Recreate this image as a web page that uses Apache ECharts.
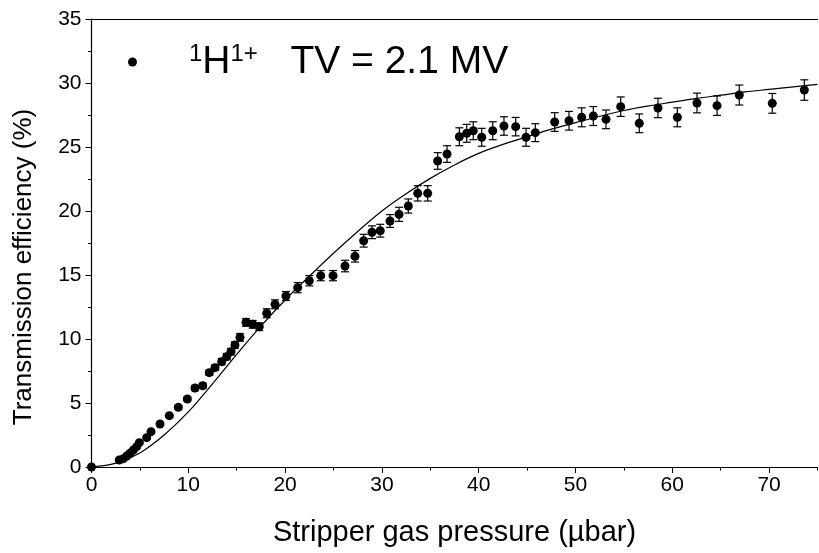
<!DOCTYPE html>
<html><head><meta charset="utf-8">
<script src="https://cdn.jsdelivr.net/npm/echarts@6/dist/echarts.min.js"></script>
<style>html,body{margin:0;padding:0;background:#fff}#c{width:819px;height:553px}</style>
</head><body><div id="c"></div>
<script>
// Measured data (stripper gas pressure in µbar, transmission efficiency in %)
const pressure = [0, 2.87, 3.29, 3.64, 3.98, 4.32, 4.67, 4.94, 5.70, 6.15, 7.08, 8.04, 8.97, 9.90, 10.69, 11.49,
  12.17, 12.76, 13.45, 13.97, 14.41, 14.82, 15.34, 15.96, 16.65, 17.33, 18.10, 18.96, 20.09, 21.30, 22.50, 23.68,
  24.95, 26.19, 27.22, 28.12, 28.98, 29.83, 30.84, 31.77, 32.73, 33.70, 34.73, 35.76, 36.73, 38.00, 38.76, 39.44,
  40.31, 41.45, 42.61, 43.82, 44.89, 45.85, 47.85, 49.33, 50.64, 51.84, 53.15, 54.67, 56.59, 58.52, 60.52, 62.55,
  64.62, 66.92, 70.33, 73.64];
const efficiency = [0, 0.55, 0.65, 0.86, 1.07, 1.33, 1.59, 1.90, 2.29, 2.76, 3.36, 4.01, 4.66, 5.31, 6.17, 6.35,
  7.37, 7.76, 8.23, 8.62, 9.01, 9.53, 10.13, 11.30, 11.15, 10.96, 12.01, 12.71, 13.36, 14.01, 14.55, 14.95,
  14.95, 15.70, 16.46, 17.68, 18.34, 18.46, 19.22, 19.74, 20.39, 21.38, 21.38, 23.91, 24.45, 25.80, 26.07, 26.27,
  25.76, 26.27, 26.64, 26.59, 25.76, 26.12, 26.95, 27.05, 27.32, 27.42, 27.16, 28.15, 26.85, 28.05, 27.32, 28.44,
  28.23, 29.06, 28.41, 29.45];
const errorBars = [0, 0.05, 0.05, 0.05, 0.05, 0.05, 0.05, 0.05, 0.1, 0.1, 0.1, 0.1, 0.15, 0.15, 0.2, 0.2,
  0.2, 0.2, 0.25, 0.25, 0.25, 0.25, 0.3, 0.3, 0.3, 0.3, 0.35, 0.35, 0.35, 0.4, 0.4, 0.4,
  0.4, 0.45, 0.45, 0.5, 0.5, 0.5, 0.5, 0.55, 0.55, 0.6, 0.6, 0.65, 0.65, 0.7, 0.7, 0.7,
  0.7, 0.7, 0.72, 0.72, 0.7, 0.7, 0.73, 0.73, 0.74, 0.74, 0.73, 0.76, 0.73, 0.76, 0.74, 0.77,
  0.76, 0.78, 0.77, 0.8];
// Fit curve
const fitPressure = [0, 2.5, 5, 7.5, 10, 12.5, 15, 17.5, 20, 22.5, 25, 27.5, 30,
  32.5, 35, 37.5, 40, 42.5, 45, 47.5, 50, 52.5, 55, 57.5, 60, 62.5, 65, 67.5, 70, 72.5, 75];
const fitEfficiency = [0, 0.3, 1.1, 2.5, 4.3, 6.5, 8.8, 11.0, 13.05, 14.9, 16.7,
  18.4, 20.0, 21.35, 22.55, 23.6, 24.5, 25.2, 25.8, 26.4, 26.9, 27.4, 27.85, 28.2, 28.5, 28.8, 29.05, 29.3, 29.5,
  29.7, 29.9];
const xTickLabels = [0, 10, 20, 30, 40, 50, 60, 70];
const yTickLabels = [0, 5, 10, 15, 20, 25, 30, 35];
const xMax = 75;

const FONT = '"Liberation Sans", Arial, Helvetica, sans-serif';
const chart = echarts.init(document.getElementById('c'), null, {renderer: 'canvas'});

const points = pressure.map((p, i) => [p, efficiency[i]]);
const errs = pressure.map((p, i) => [p, efficiency[i], errorBars[i]]);
const fit = fitPressure.map((p, i) => [p, fitEfficiency[i]]);

const xStep = xTickLabels[1] - xTickLabels[0];
const yStep = yTickLabels[1] - yTickLabels[0];

chart.setOption({
  backgroundColor: '#fff',
  animation: false,
  grid: {left: 91.5, right: 1.5, top: 19, bottom: 86},
  legend: {
    left: 128, top: 42, padding: 0,
    itemWidth: 9, itemHeight: 9,
    data: [{name: 'H', icon: 'circle', itemStyle: {color: '#000', opacity: 1}}],
    formatter: () => '{sp|}{sup|1}{big|H}{sup|1+}{big|   TV = 2.1 MV}',
    textStyle: {
      color: '#000', fontFamily: FONT,
      rich: {
        sp: {width: 47},
        sup: {fontSize: 24, lineHeight: 24, verticalAlign: 'top', fontFamily: FONT, color: '#000'},
        big: {fontSize: 39, lineHeight: 40, verticalAlign: 'bottom', fontFamily: FONT, color: '#000'}
      }
    }
  },
  xAxis: [
    {
      type: 'value', min: xTickLabels[0], max: xMax, interval: xStep, position: 'bottom',
      name: 'Stripper gas pressure (\u00b5bar)', nameLocation: 'middle', nameGap: 51,
      nameTextStyle: {fontSize: 29, fontFamily: FONT, color: '#000'},
      axisLine: {show: true, onZero: false, lineStyle: {color: '#000', width: 1.2}},
      axisTick: {show: true, length: 6, lineStyle: {color: '#000', width: 1}},
      axisLabel: {show: true, margin: 8, fontSize: 21, fontFamily: FONT, color: '#000', showMaxLabel: false},
      splitLine: {show: false}
    },
    {
      type: 'value', min: xTickLabels[0], max: xMax, interval: xStep / 2, position: 'bottom',
      axisLine: {show: false}, axisLabel: {show: false}, splitLine: {show: false},
      axisTick: {show: true, length: 3.5, lineStyle: {color: '#000', width: 1}}
    },
    {
      type: 'value', min: xTickLabels[0], max: xMax, position: 'top',
      axisLine: {show: true, onZero: false, lineStyle: {color: '#000', width: 1.2}},
      axisTick: {show: false}, axisLabel: {show: false}, splitLine: {show: false}
    }
  ],
  yAxis: {
    type: 'value', min: yTickLabels[0], max: yTickLabels[yTickLabels.length - 1], interval: yStep,
    name: 'Transmission efficiency (%)', nameLocation: 'middle', nameGap: 55,
    nameTextStyle: {fontSize: 26, fontFamily: FONT, color: '#000', padding: [0, 48, 0, 0]},
    axisLine: {show: true, onZero: false, lineStyle: {color: '#000', width: 1.2}},
    axisTick: {show: true, length: 6, lineStyle: {color: '#000', width: 1}},
    minorTick: {show: true, splitNumber: 2, length: 3.5, lineStyle: {color: '#000', width: 1}},
    axisLabel: {show: true, margin: 10, fontSize: 21, fontFamily: FONT, color: '#000'},
    splitLine: {show: false}
  },
  series: [
    {
      name: 'fit', type: 'line', data: fit, smooth: 0.35, showSymbol: false, symbol: 'none',
      lineStyle: {color: '#000', width: 1.2}, z: 2, silent: true
    },
    {
      name: 'err', type: 'custom', data: errs, encode: {x: 0, y: 1}, z: 3, silent: true,
      renderItem: function (params, api) {
        const x = api.value(0), y = api.value(1), e = api.value(2);
        const t = api.coord([x, y + e]);
        const b = api.coord([x, y - e]);
        const hw = 4;
        const st = {stroke: '#000', lineWidth: 1.2};
        return {
          type: 'group', children: [
            {type: 'line', shape: {x1: t[0], y1: t[1], x2: b[0], y2: b[1]}, style: st},
            {type: 'line', shape: {x1: t[0] - hw, y1: t[1], x2: t[0] + hw, y2: t[1]}, style: st},
            {type: 'line', shape: {x1: b[0] - hw, y1: b[1], x2: b[0] + hw, y2: b[1]}, style: st}
          ]
        };
      }
    },
    {
      name: 'H', type: 'scatter', data: points, symbol: 'circle', symbolSize: 9,
      itemStyle: {color: '#000', opacity: 1}, z: 4
    }
  ]
});
</script>
</body></html>
